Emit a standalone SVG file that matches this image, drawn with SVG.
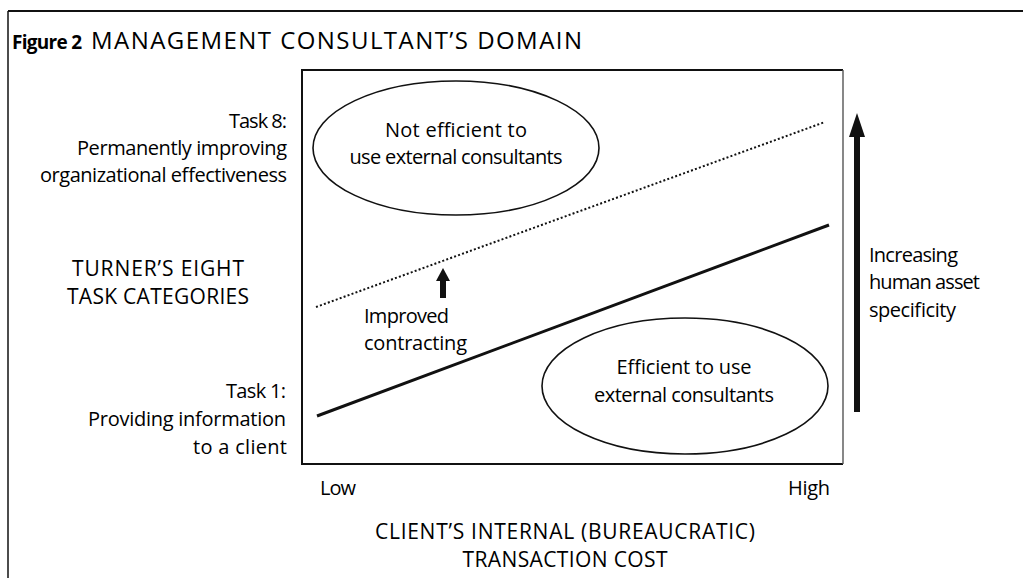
<svg xmlns="http://www.w3.org/2000/svg" width="1023" height="578" viewBox="0 0 1023 578">
  <style>
    text { font-family: "Open Sans", "Liberation Sans", sans-serif; font-size: 20px; fill: #000; }
    .title { font-size: 24px; }
    .caps { font-size: 21px; }
    .bold { font-weight: bold; font-size: 19px; }
    .r { text-anchor: end; }
    .c { text-anchor: middle; }
    .node { fill: none; stroke: #111; stroke-width: 1.6; }
    .frame { fill: none; stroke: #111; }
  </style>
  <defs>
    <marker id="bigHead" markerUnits="userSpaceOnUse" viewBox="0 0 24 16" refX="0" refY="8" markerWidth="24" markerHeight="16" orient="auto">
      <path d="M0,0 L24,8 L0,16 z" fill="#111"/>
    </marker>
    <marker id="smallHead" markerUnits="userSpaceOnUse" viewBox="0 0 13 14" refX="0" refY="7" markerWidth="13" markerHeight="14" orient="auto">
      <path d="M0,0 L13,7 L0,14 z" fill="#111"/>
    </marker>
  </defs>
  <rect width="1023" height="578" fill="#fff"/>

  <g id="frame">
    <line class="frame" x1="8" y1="11" x2="1023" y2="11" stroke-width="2"/>
    <line class="frame" x1="8" y1="11" x2="8" y2="578" stroke-width="1.5" stroke="#444"/>
  </g>

  <g id="title">
    <text x="12" y="49" class="bold" textLength="70">Figure 2</text>
    <text x="91" y="49" class="title" textLength="491">MANAGEMENT CONSULTANT’S DOMAIN</text>
  </g>

  <g id="plot-box">
    <path d="M843,70 L302,70 L302,464 L843,464" fill="none" stroke="#111" stroke-width="2"/>
    <line x1="843" y1="70" x2="843" y2="464" stroke="#555" stroke-width="1.4"/>
  </g>

  <g id="y-labels">
    <text x="287" y="128" class="r" textLength="58">Task 8:</text>
    <text x="287" y="155" class="r" textLength="210">Permanently improving</text>
    <text x="287" y="182" class="r" textLength="247">organizational effectiveness</text>
    <text x="158" y="276" class="c caps" textLength="172">TURNER’S EIGHT</text>
    <text x="158" y="304" class="c caps" textLength="182">TASK CATEGORIES</text>
    <text x="286" y="398" class="r" textLength="60">Task 1:</text>
    <text x="286" y="426" class="r" textLength="198">Providing information</text>
    <text x="287" y="454" class="r" textLength="94">to a client</text>
  </g>

  <g id="x-labels">
    <text x="320" y="495" textLength="36">Low</text>
    <text x="788" y="495" textLength="42">High</text>
    <text x="565" y="539" class="c caps" textLength="380">CLIENT’S INTERNAL (BUREAUCRATIC)</text>
    <text x="565" y="567" class="c caps" textLength="205">TRANSACTION COST</text>
  </g>

  <g id="node-not-efficient">
    <ellipse class="node" cx="456" cy="148" rx="143" ry="67"/>
    <text x="456" y="137" class="c" textLength="142">Not efficient to</text>
    <text x="456" y="164" class="c" textLength="213">use external consultants</text>
  </g>

  <g id="node-efficient">
    <ellipse class="node" cx="685" cy="386" rx="143" ry="68"/>
    <text x="684" y="374" class="c" textLength="135">Efficient to use</text>
    <text x="684" y="402" class="c" textLength="180">external consultants</text>
  </g>

  <g id="label-improved">
    <text x="364" y="323" textLength="85">Improved</text>
    <text x="364" y="350" textLength="103">contracting</text>
  </g>

  <g id="label-increasing">
    <text x="869" y="262" textLength="89">Increasing</text>
    <text x="869" y="289" textLength="111">human asset</text>
    <text x="869" y="317" textLength="87">specificity</text>
  </g>

  <g id="connectors">
    <line id="improved-frontier" x1="316" y1="307" x2="825" y2="122" stroke="#111" stroke-width="2" stroke-dasharray="2 2.2"/>
    <line id="frontier" x1="317" y1="416" x2="829" y2="225" stroke="#111" stroke-width="3"/>
    <line id="improved-arrow" x1="443" y1="298" x2="443" y2="281" stroke="#111" stroke-width="6" marker-end="url(#smallHead)"/>
    <line id="specificity-arrow" x1="857" y1="412" x2="857" y2="137" stroke="#111" stroke-width="6" marker-end="url(#bigHead)"/>
  </g>
</svg>
